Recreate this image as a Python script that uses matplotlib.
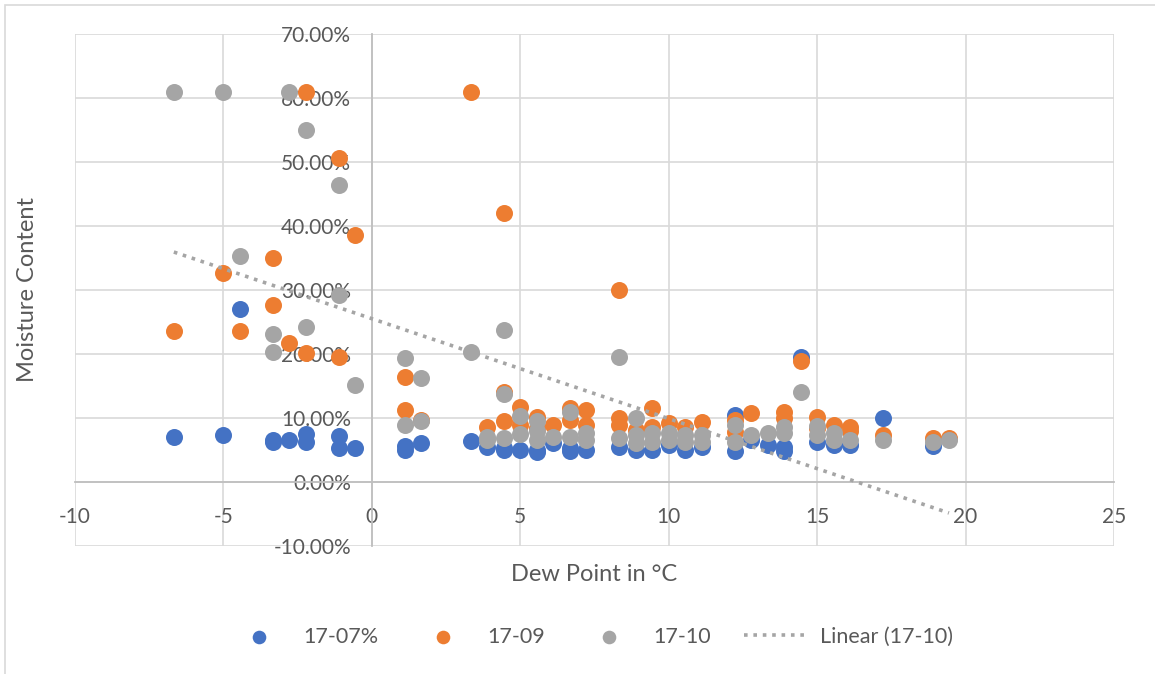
# Scatter of moisture content vs dew point for three sample sets,
# with a linear trendline on the 17-10 series (Excel-style look).

import numpy as np
import matplotlib
matplotlib.use('Agg')
import matplotlib.pyplot as plt
import matplotlib.ticker as mticker
from matplotlib.patches import Rectangle

plt.rcParams['font.family'] = ['Lato', 'DejaVu Sans']
plt.rcParams['axes.unicode_minus'] = False

# --- Data (dew point in °C, moisture content in %) ---
x_0707 = [-6.67, -5.00, -4.44, -3.33, -3.33, -2.78, -2.22, -2.22, -1.11, -1.11,
          -0.56, 1.11, 1.11, 1.67, 3.33, 3.89, 4.44, 4.44, 5.00, 5.56, 5.56,
          6.11, 6.67, 6.67, 7.22, 8.33, 8.89, 9.44, 10.00, 10.56, 11.11,
          12.22, 12.22, 12.78, 13.33, 13.89, 13.89, 14.44, 15.00, 15.56,
          16.11, 17.22, 18.89]
y_0707 = [7.0, 7.4, 27.0, 6.5, 6.2, 6.5, 7.5, 6.2, 7.2, 5.3,
          5.3, 5.6, 5.0, 6.1, 6.4, 5.5, 5.3, 5.0, 5.0, 5.0, 4.7,
          6.1, 5.3, 4.8, 5.0, 5.5, 5.0, 5.0, 5.8, 5.0, 5.5,
          10.5, 4.8, 6.6, 5.8, 5.5, 4.8, 19.6, 6.3, 5.8,
          5.8, 10.0, 5.6]

x_0709 = [-6.67, -5.00, -4.44, -3.33, -3.33, -2.78, -2.22, -2.22, -1.11, -1.11,
          -0.56, 1.11, 1.11, 1.67, 3.33, 3.89, 4.44, 4.44, 4.44, 5.00, 5.00,
          5.56, 5.56, 6.11, 6.67, 6.67, 7.22, 7.22, 8.33, 8.33, 8.33, 8.89,
          9.44, 9.44, 10.00, 10.56, 11.11, 12.22, 12.22, 12.78, 13.89, 13.89,
          14.44, 15.00, 15.00, 15.56, 16.11, 16.11, 17.22, 18.89, 19.44]
y_0709 = [23.6, 32.6, 23.6, 35.0, 27.6, 21.7, 61.0, 20.2, 50.7, 19.5,
          38.6, 16.4, 11.2, 9.7, 61.0, 8.6, 42.0, 14.1, 9.5, 11.7, 8.9,
          10.2, 8.5, 8.9, 11.6, 9.7, 11.2, 8.9, 30.0, 10.0, 8.9, 8.1,
          11.5, 8.6, 9.2, 8.6, 9.4, 9.7, 7.8, 10.8, 11.0, 10.0,
          18.9, 10.1, 8.5, 8.9, 8.6, 8.0, 7.3, 6.9, 6.9]

x_0710 = [-6.67, -5.00, -4.44, -3.33, -3.33, -2.78, -2.22, -2.22, -1.11, -1.11,
          -0.56, 1.11, 1.11, 1.67, 1.67, 3.33, 3.89, 3.89, 4.44, 4.44, 4.44,
          5.00, 5.00, 5.56, 5.56, 5.56, 6.11, 6.67, 6.67, 7.22, 7.22, 8.33,
          8.33, 8.89, 8.89, 8.89, 9.44, 9.44, 10.00, 10.00, 10.56, 10.56,
          11.11, 11.11, 12.22, 12.22, 12.78, 13.33, 13.89, 13.89, 14.44,
          15.00, 15.00, 15.56, 15.56, 16.11, 17.22, 18.89, 19.44]
y_0710 = [61.0, 61.0, 35.3, 23.2, 20.3, 61.0, 55.0, 24.2, 46.4, 29.2,
          15.2, 19.4, 8.9, 16.3, 9.5, 20.3, 7.0, 6.5, 23.7, 13.7, 6.9,
          10.3, 7.5, 9.6, 8.0, 6.6, 7.0, 11.0, 7.0, 7.6, 6.5, 19.6,
          6.9, 10.0, 7.3, 6.1, 7.6, 6.3, 7.6, 6.6, 7.3, 6.3,
          7.3, 6.3, 8.9, 6.3, 7.3, 7.6, 8.6, 7.6, 14.1,
          8.75, 7.3, 7.6, 6.6, 6.6, 6.6, 6.3, 6.6]

# --- Figure ---
fig = plt.figure(figsize=(11.55, 6.74), dpi=100)
ax = fig.add_axes([75 / 1155, 1 - 546 / 674, (1114 - 75) / 1155, (546 - 34) / 674])

# outer chart border (only left and top visible in the crop)
fig.patches.append(Rectangle((5 / 1155, -0.1), 1.2, (1 - 5 / 674) + 0.1,
                             transform=fig.transFigure, fill=False,
                             edgecolor='#D9D9D9', linewidth=1.2))

ms = 150
ax.scatter(x_0707, y_0707, s=ms, color='#4472C4', linewidths=0, zorder=3, label='17-07%')
ax.scatter(x_0709, y_0709, s=ms, color='#ED7D31', linewidths=0, zorder=4, label='17-09')
ax.scatter(x_0710, y_0710, s=ms, color='#A5A5A5', linewidths=0, zorder=5, label='17-10')

# linear trendline for 17-10
slope, intercept = np.polyfit(x_0710, y_0710, 1)
tx = np.array([min(x_0710), max(x_0710)])
ax.plot(tx, slope * tx + intercept, color='#A5A5A5', linestyle=(0, (1, 1.6)),
        linewidth=2.6, zorder=6, label='Linear (17-10)')

ax.set_xlim(-10, 25)
ax.set_ylim(-10, 70)
ax.xaxis.set_major_locator(mticker.MultipleLocator(5))
ax.yaxis.set_major_locator(mticker.MultipleLocator(10))
ax.yaxis.set_major_formatter(mticker.FormatStrFormatter('%.2f%%'))

# axes cross at zero like Excel
ax.spines['left'].set_position(('data', 0))
ax.spines['bottom'].set_position(('data', 0))
for s in ['top', 'right']:
    ax.spines[s].set_visible(False)
for s in ['left', 'bottom']:
    ax.spines[s].set_color('#BFBFBF')
    ax.spines[s].set_linewidth(1.3)
    ax.spines[s].set_zorder(2)

ax.grid(True, color='#D9D9D9', linewidth=1.2, zorder=0)
ax.set_axisbelow(True)
ax.tick_params(length=0, labelsize=15, colors='#595959')
ax.tick_params(axis='x', pad=18)
ax.tick_params(axis='y', pad=15)

ax.set_xlabel('Dew Point in °C', fontsize=17, color='#595959')
ax.set_ylabel('Moisture Content', fontsize=17, color='#595959')
ax.xaxis.set_label_coords(0.5, -0.035)
ax.yaxis.set_label_coords(-0.036, 0.5)

handles, labels = ax.get_legend_handles_labels()
fig.legend(handles, labels, loc='center', bbox_to_anchor=(0.511, 1 - 637 / 674),
           ncol=4, frameon=False, fontsize=15.5, labelcolor='#595959',
           columnspacing=1.55, handlelength=2.9, handletextpad=0.6, markerscale=0.8)

fig.savefig('out.png', dpi=100, facecolor='white')
